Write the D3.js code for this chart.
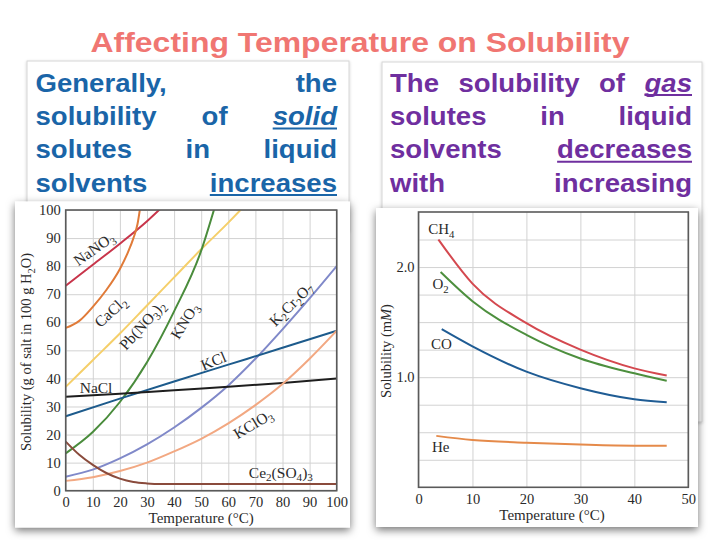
<!DOCTYPE html>
<html><head><meta charset="utf-8">
<script src="https://cdn.jsdelivr.net/npm/d3@7"></script>
<style>
html,body{margin:0;padding:0;background:#fff;}
svg{display:block;}
</style></head>
<body>
<svg id="chart" width="720" height="540"></svg>
<script>
// ================= DATA =================
const titleText = "Affecting Temperature on Solubility";
const leftParagraph = [
  ["Generally,", "the"],
  ["solubility", "of", "solid"],
  ["solutes", "in", "liquid"],
  ["solvents", "increases"]
];
const rightParagraph = [
  ["The", "solubility", "of", "gas"],
  ["solutes", "in", "liquid"],
  ["solvents", "decreases"],
  ["with", "increasing"]
];
const italicWords = ["solid", "gas"];
const underlinedWords = ["solid", "increases", "gas", "decreases"];

// Solid solutes chart (g of salt in 100 g H2O vs °C)
const solidTempTicks = [0, 10, 20, 30, 40, 50, 60, 70, 80, 90, 100];
const solidValueTicks = [0, 10, 20, 30, 40, 50, 60, 70, 80, 90, 100];
const NaNO3 = [[0,73],[10,80.5],[20,88],[30,96],[35,100.5]];
const CaCl2 = [[0,58],[5,60.5],[10,65.5],[15,71.5],[20,79],[23,85],[25,90],[26.5,95],[27.5,101]];
const PbNO32 = [[0,37],[10,46.5],[20,56],[30,66],[40,76],[50,86],[60,95.5],[65,100.5]];
const KNO3 = [[0,13.3],[10,20.9],[20,31.6],[30,45.8],[40,63.9],[50,85.5],[55,101]];
const K2Cr2O7 = [[0,5],[10,7.5],[20,11.5],[30,16.5],[40,22.5],[50,29.5],[60,37.5],[70,47],[80,57.5],[90,68.5],[100,80]];
const KCl = [[0,26.5],[20,32.8],[40,38.9],[60,44.9],[80,50.9],[100,57]];
const NaCl = [[0,33.5],[20,34.5],[40,35.8],[60,37],[80,38.4],[100,40]];
const KClO3 = [[0,3.5],[10,4.8],[20,7],[30,10],[40,14],[50,18.5],[60,24],[70,30.5],[80,38],[90,47],[100,57]];
const Ce2SO43 = [[0,17.5],[5,12.8],[10,9.2],[15,6.3],[20,4.3],[25,3.1],[30,2.6],[35,2.4],[100,2.4]];
const solidNames = ["NaNO_3","CaCl_2","Pb(NO_3)_2","KNO_3","K_2Cr_2O_7","KCl","NaCl","KClO_3","Ce_2(SO_4)_3"];

// Gas solutes chart (mM vs °C)
const gasTempTicks = [0, 10, 20, 30, 40, 50];
const gasGridValues = [0.25, 0.5, 0.75, 1.0, 1.25, 1.5, 1.75, 2.0, 2.25];
const gasLabelTicks = [1.0, 2.0];
const CH4 = [[3.7,2.25],[10,1.85],[20,1.49],[30,1.25],[40,1.08],[46,1.015]];
const O2 = [[4.1,1.955],[10,1.69],[20,1.385],[30,1.17],[40,1.035],[46,0.967]];
const CO = [[4.3,1.436],[10,1.28],[20,1.05],[30,0.9],[40,0.80],[46,0.773]];
const He = [[3.3,0.467],[10,0.43],[20,0.405],[30,0.388],[40,0.378],[46,0.378]];
const gasNames = ["CH_4","O_2","CO","He"];

// ================= STYLE / LAYOUT =================
const solidColors = ["#c8354b","#e07b39","#f5cf6a","#4a8c3c","#8089c9","#1d5b8c","#1e1e1e","#f2a882","#8a4b3c"];
const gasColors = ["#d4484f","#4d8f3e","#1f5c94","#e58a4a"];
// label anchors in data units + rotation
const solidLabelLayout = [
  {x:10.4,y:86.2,r:-35},{x:16.5,y:63.8,r:-42},{x:28.2,y:59,r:-48},{x:43.8,y:60.5,r:-58},
  {x:83.1,y:66.5,r:-45},{x:54.5,y:46.3,r:-23},{x:11.2,y:36.8,r:0},{x:69.1,y:23.8,r:-31},{x:79.4,y:6.6,r:0}
];
const gasLabelLayout = [{x:1.8,y:2.30},{x:2.6,y:1.80},{x:2.3,y:1.253},{x:2.5,y:0.323}];

const serif = "'Liberation Serif','Times New Roman',serif";
const sans = "'Liberation Sans',Arial,sans-serif";
const textCol = "#2a2a2a";

const svg = d3.select("#chart");
svg.append("rect").attr("width",720).attr("height",540).attr("fill","#fff");

const defs = svg.append("defs");
const f = defs.append("filter").attr("id","sh").attr("x","-10%").attr("y","-10%").attr("width","120%").attr("height","125%");
f.append("feDropShadow").attr("dx",0).attr("dy",3).attr("stdDeviation",4.5).attr("flood-color","#000").attr("flood-opacity",0.55);
const f2 = defs.append("filter").attr("id","sh2").attr("x","-5%").attr("y","-5%").attr("width","110%").attr("height","110%");
f2.append("feDropShadow").attr("dx",0).attr("dy",1).attr("stdDeviation",1.5).attr("flood-color","#000").attr("flood-opacity",0.2);

// ---- Title ----
svg.append("text").attr("x",90.5).attr("y",51.7)
  .attr("font-family",sans).attr("font-weight","bold").attr("font-size",28)
  .attr("fill","#f07672").attr("textLength",539).attr("lengthAdjust","spacingAndGlyphs")
  .text(titleText);

// ---- Text boxes ----
svg.append("rect").attr("x",27).attr("y",61).attr("width",322).attr("height",170)
  .attr("fill","#fff").attr("stroke","#d6d6d6").attr("filter","url(#sh2)");
svg.append("rect").attr("x",382).attr("y",62).attr("width",320).attr("height",360)
  .attr("fill","#fff").attr("stroke","#d6d6d6").attr("filter","url(#sh2)");

function drawParagraph(lines, x0, x1, y0, lh, color) {
  const g = svg.append("g").attr("font-family",sans).attr("font-weight","bold")
    .attr("font-size",26).attr("fill",color);
  const stretch = 1.06;
  lines.forEach((words, i) => {
    const y = y0 + i*lh;
    const nodes = words.map(w => {
      const t = g.append("text").attr("y",y).text(w);
      if (italicWords.includes(w)) t.attr("font-style","italic");
      const wd = t.node().getComputedTextLength()*stretch;
      t.attr("textLength",wd).attr("lengthAdjust","spacingAndGlyphs");
      return {t, wd, w};
    });
    const total = d3.sum(nodes, d => d.wd);
    const gap = nodes.length > 1 ? (x1-x0-total)/(nodes.length-1) : 8;
    let x = x0;
    nodes.forEach(n => {
      n.t.attr("x", x);
      if (underlinedWords.includes(n.w)) {
        g.append("line").attr("x1",x).attr("x2",x+n.wd).attr("y1",y+3.5).attr("y2",y+3.5)
          .attr("stroke",color).attr("stroke-width",2);
      }
      x += n.wd + gap;
    });
  });
}
drawParagraph(leftParagraph, 35.5, 337, 91.6, 33.3, "#1a65a8");
drawParagraph(rightParagraph, 390, 692, 91.6, 33.3, "#6f2f9f");

// ---- Chart cards ----
svg.append("rect").attr("x",15).attr("y",201.5).attr("width",335).attr("height",326)
  .attr("fill","#fff").attr("filter","url(#sh)");
svg.append("rect").attr("x",376).attr("y",208).attr("width",322).attr("height",319)
  .attr("fill","#fff").attr("filter","url(#sh)");

// chemical formula helper
function chem(textSel, str) {
  let parts = [];
  for (let i = 0; i < str.length; i++) {
    if (str[i] === "_") { parts.push({s:str[i+1], sub:true}); i++; }
    else {
      if (parts.length && !parts[parts.length-1].sub) parts[parts.length-1].s += str[i];
      else parts.push({s:str[i], sub:false});
    }
  }
  let prevSub = false;
  parts.forEach(p => {
    const ts = textSel.append("tspan").text(p.s);
    if (p.sub) { ts.attr("font-size","0.72em").attr("dy", prevSub ? 0 : 3.5); }
    else if (prevSub) { ts.attr("dy", -3.5); }
    prevSub = p.sub;
  });
}

function styleAxis(g) {
  g.select(".domain").remove();
  g.selectAll("text").attr("font-family",serif).attr("font-size",14.5).attr("fill",textCol);
}

// ================= LEFT CHART =================
const xL = d3.scaleLinear().domain([0,100]).range([65.7,336.7]);
const yL = d3.scaleLinear().domain([0,100]).range([490.7,210]);
const gL = svg.append("g");
const hL = yL(0)-yL(100), wL = xL(100)-xL(0);

gL.append("g").attr("transform",`translate(0,${yL(0)})`)
  .call(d3.axisBottom(xL).tickValues(solidTempTicks).tickSize(-hL).tickFormat(""))
  .call(g => { g.select(".domain").remove(); g.selectAll("line").attr("stroke","#d2d2d2"); });
gL.append("g").attr("transform",`translate(${xL(0)},0)`)
  .call(d3.axisLeft(yL).tickValues(solidValueTicks).tickSize(-wL).tickFormat(""))
  .call(g => { g.select(".domain").remove(); g.selectAll("line").attr("stroke","#d2d2d2"); });

defs.append("clipPath").attr("id","clipL").append("rect")
  .attr("x",xL(0)).attr("y",yL(100)).attr("width",wL).attr("height",hL);

const lineL = d3.line().x(d => xL(d[0])).y(d => yL(d[1])).curve(d3.curveMonotoneX);
const solidSeries = [NaNO3, CaCl2, PbNO32, KNO3, K2Cr2O7, KCl, NaCl, KClO3, Ce2SO43];
gL.append("g").attr("clip-path","url(#clipL)").selectAll("path").data(solidSeries).join("path")
  .attr("d", lineL).attr("fill","none").attr("stroke",(d,i) => solidColors[i]).attr("stroke-width",2);

gL.append("rect").attr("x",xL(0)).attr("y",yL(100)).attr("width",wL).attr("height",hL)
  .attr("fill","none").attr("stroke","#5a5a5a").attr("stroke-width",1.6);

gL.append("g").attr("transform",`translate(${xL(0)},0)`)
  .call(d3.axisLeft(yL).tickValues(solidValueTicks).tickSize(0).tickPadding(5)).call(styleAxis);
gL.append("g").attr("transform",`translate(0,${yL(0)})`)
  .call(d3.axisBottom(xL).tickValues(solidTempTicks).tickSize(0).tickPadding(6)).call(styleAxis);

solidNames.forEach((nm, i) => {
  const L = solidLabelLayout[i];
  const t = gL.append("text").attr("font-family",serif).attr("font-size",15.5).attr("fill",textCol)
    .attr("text-anchor","middle")
    .attr("transform",`translate(${xL(L.x)},${yL(L.y)}) rotate(${L.r})`).attr("dy","0.35em");
  chem(t, nm);
});

gL.append("text").attr("x",(xL(0)+xL(100))/2).attr("y",523).attr("text-anchor","middle")
  .attr("font-family",serif).attr("font-size",15).attr("fill",textCol).text("Temperature (°C)");
{
  const t = gL.append("text").attr("transform","translate(26,352) rotate(-90)").attr("dy","0.35em")
    .attr("text-anchor","middle").attr("font-family",serif).attr("font-size",14.5).attr("fill",textCol);
  chem(t, "Solubility (g of salt in 100 g H_2O)");
}

// ================= RIGHT CHART =================
const xR = d3.scaleLinear().domain([0,50]).range([418.5,688.3]);
const yR = d3.scaleLinear().domain([0,2.5]).range([487.3,212]);
const gR = svg.append("g");
const hR = yR(0)-yR(2.5), wR = xR(50)-xR(0);

gR.append("g").attr("transform",`translate(0,${yR(0)})`)
  .call(d3.axisBottom(xR).tickValues(gasTempTicks).tickSize(-hR).tickFormat(""))
  .call(g => { g.select(".domain").remove(); g.selectAll("line").attr("stroke","#d2d2d2"); });
gR.append("g").attr("transform",`translate(${xR(0)},0)`)
  .call(d3.axisLeft(yR).tickValues(gasGridValues).tickSize(-wR).tickFormat(""))
  .call(g => { g.select(".domain").remove(); g.selectAll("line").attr("stroke","#d2d2d2"); });

const lineR = d3.line().x(d => xR(d[0])).y(d => yR(d[1])).curve(d3.curveMonotoneX);
const gasSeries = [CH4, O2, CO, He];
gR.append("g").selectAll("path").data(gasSeries).join("path")
  .attr("d", lineR).attr("fill","none").attr("stroke",(d,i) => gasColors[i]).attr("stroke-width",2);

gR.append("rect").attr("x",xR(0)).attr("y",yR(2.5)).attr("width",wR).attr("height",hR)
  .attr("fill","none").attr("stroke","#5a5a5a").attr("stroke-width",1.6);

gR.append("g").attr("transform",`translate(${xR(0)},0)`)
  .call(d3.axisLeft(yR).tickValues(gasLabelTicks).tickSize(0).tickPadding(4).tickFormat(d3.format(".1f"))).call(styleAxis);
gR.append("g").attr("transform",`translate(0,${yR(0)})`)
  .call(d3.axisBottom(xR).tickValues(gasTempTicks).tickSize(0).tickPadding(6)).call(styleAxis);

gasNames.forEach((nm, i) => {
  const L = gasLabelLayout[i];
  const t = gR.append("text").attr("x",xR(L.x)).attr("y",yR(L.y))
    .attr("font-family",serif).attr("font-size",15).attr("fill",textCol);
  chem(t, nm);
});

gR.append("text").attr("x",552).attr("y",520).attr("text-anchor","middle")
  .attr("font-family",serif).attr("font-size",15).attr("fill",textCol).text("Temperature (°C)");
{
  const t = gR.append("text").attr("transform","translate(386,351) rotate(-90)").attr("dy","0.35em")
    .attr("text-anchor","middle").attr("font-family",serif).attr("font-size",14.5).attr("fill",textCol);
  t.append("tspan").text("Solubility (m");
  t.append("tspan").attr("font-style","italic").text("M");
  t.append("tspan").text(")");
}
</script>
</body></html>
